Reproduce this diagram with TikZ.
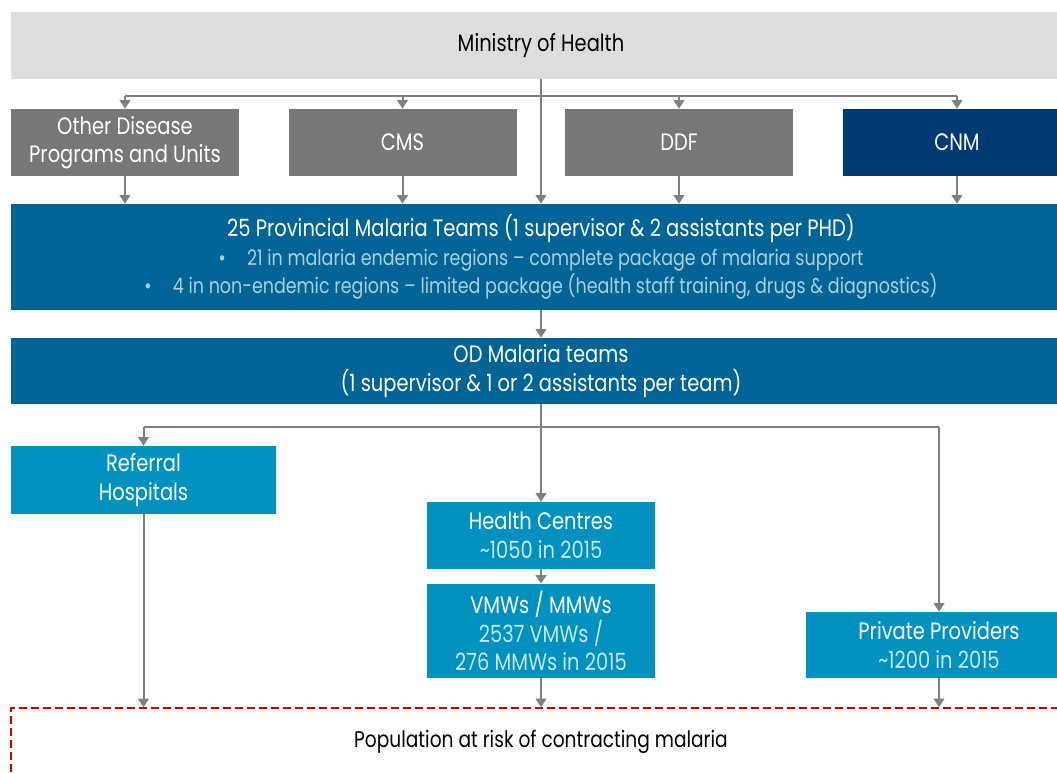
\documentclass[tikz,border=0pt]{standalone}
\usepackage{fontspec}
\setmainfont{Poppins}[FakeStretch=0.82]
\usetikzlibrary{arrows.meta}
\definecolor{boxgray}{HTML}{777777}
\definecolor{lightgray}{HTML}{DDDDDD}
\definecolor{navy}{HTML}{003A75}
\definecolor{midblue}{HTML}{006496}
\definecolor{lightblue}{HTML}{0091C0}
\definecolor{linegray}{HTML}{7F7F7F}
\definecolor{dashred}{HTML}{CC0000}
\tikzset{
  base/.style={rectangle, inner sep=0pt, align=center, text=white, font=\fontsize{17.8pt}{21.4pt}\selectfont},
  graybox/.style={base, fill=boxgray, minimum width=171pt, minimum height=50.25pt},
  navybox/.style={base, fill=navy, minimum width=171pt, minimum height=50.25pt},
  widebox/.style={base, fill=midblue, minimum width=795pt},
  lbbox/.style={base, fill=lightblue},
  conn/.style={draw=linegray, line width=1.5pt},
  arr/.style={conn, -{Triangle[width=8pt,length=6.5pt]}},
}
\newcommand{\subtxt}[1]{{\color{white!78!lightblue}#1}}
\newcommand{\bul}[1]{{\fontsize{16pt}{21.4pt}\selectfont\color{white!68!midblue}#1}}
\begin{document}
\begin{tikzpicture}[x=0.75pt,y=-0.75pt]
\useasboundingbox (0,0) rectangle (1057,773);
% boxes
\node[base, fill=lightgray, text=black, minimum width=795pt, minimum height=50.25pt] (min) at (541,45.5) {Ministry of Health};
\node[graybox] (other) at (125,142.5) {Other Disease\\Programs and Units};
\node[graybox] (cms) at (402.5,142.5) {CMS};
\node[graybox] (ddf) at (679,142.5) {DDF};
\node[navybox] (cnm) at (957,142.5) {CNM};
\node[widebox, minimum height=79.5pt] (prov) at (541,257) {25 Provincial Malaria Teams (1 supervisor \& 2 assistants per PHD)\\
\bul{\textbullet\quad 21 in malaria endemic regions -- complete package of malaria support}\\
\bul{\textbullet\quad 4 in non-endemic regions -- limited package (health staff training, drugs \& diagnostics)}};
\node[widebox, minimum height=49.5pt] (od) at (541,371) {OD Malaria teams\\(1 supervisor \& 1 or 2 assistants per team)};
\node[lbbox, minimum width=198.75pt, minimum height=51pt] (ref) at (143.5,480) {Referral\\Hospitals};
\node[lbbox, minimum width=171pt, minimum height=50.25pt] (hc) at (541,535.5) {Health Centres\\\subtxt{\textasciitilde1050 in 2015}};
\node[lbbox, minimum width=171pt, minimum height=70.5pt] (vmw) at (541,631) {VMWs / MMWs\\\subtxt{2537 VMWs /}\\\subtxt{276 MMWs in 2015}};
\node[lbbox, minimum width=199.5pt, minimum height=49.5pt] (pp) at (939,645) {Private Providers\\\subtxt{\textasciitilde1200 in 2015}};
\node[base, text=black, font=\fontsize{17pt}{21.4pt}\selectfont, draw=dashred, dashed, dash pattern=on 6pt off 3pt, line width=1.2pt, minimum width=795pt, minimum height=51pt] (pop) at (541,742) {Population at risk of contracting malaria};
% connectors top
\coordinate (bus) at (541,96);
\draw[conn] (other.north |- bus) -- (cnm.north |- bus);
\foreach \n in {other,cms,ddf,cnm}{
  \draw[arr] (\n.north |- bus) -- (\n.north);
  \draw[arr] (\n.south) -- (\n.south |- prov.north);
}
\draw[arr] (min) -- (prov);
\draw[arr] (prov) -- (od);
% lower connectors
\coordinate (bus2) at (541,427);
\draw[conn] (ref.north |- bus2) -- (pp.north |- bus2);
\draw[arr] (od) -- (hc);
\draw[arr] (ref.north |- bus2) -- (ref.north);
\draw[arr] (pp.north |- bus2) -- (pp.north);
\draw[arr] (hc) -- (vmw);
\draw[arr] (ref.south) -- (ref.south |- pop.north);
\draw[arr] (vmw.south) -- (vmw.south |- pop.north);
\draw[arr] (pp.south) -- (pp.south |- pop.north);
\end{tikzpicture}
\end{document}
